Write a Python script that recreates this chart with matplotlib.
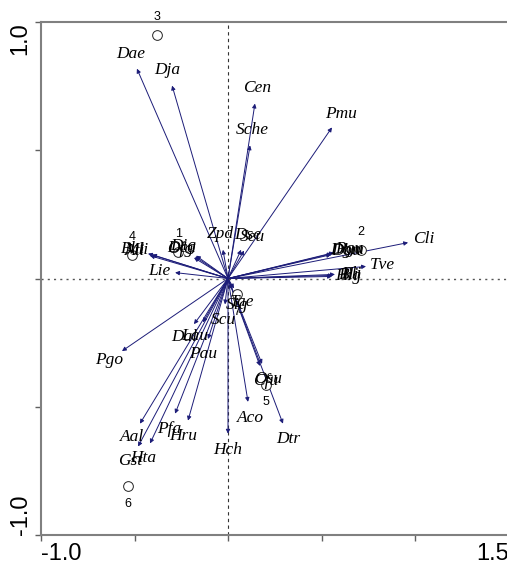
import numpy as np
import matplotlib
matplotlib.use('Agg')
import matplotlib.pyplot as plt

# especes (fleches)
species = ['Dae', 'Dja', 'Cen', 'Sche', 'Pmu', 'Cli', 'Tve',
           'Dgm', 'Pgu', 'Dbu', 'Bli', 'Pli', 'Hig',
           'Ati', 'Mli', 'Bhi', 'Lie', 'Dca', 'Dig', 'Ofg',
           'Zpd', 'Dse', 'Seu', 'Sig', 'Tae', 'Scu',
           'Dal', 'Lau', 'Pau', 'Pgo', 'Aal', 'Gst', 'Hta',
           'Pfa', 'Hru', 'Hch', 'Aco', 'Dtr', 'Cfu', 'Osu']
sp_x = [-0.487, -0.299, 0.144, 0.118, 0.556, 0.963, 0.738,
        0.556, 0.567, 0.551, 0.561, 0.572, 0.556,
        -0.417, -0.406, -0.428, -0.283, -0.176, -0.171, -0.182,
        -0.027, 0.070, 0.086, 0.021, 0.032, -0.016,
        -0.182, -0.134, -0.107, -0.567, -0.471, -0.481, -0.417,
        -0.283, -0.214, 0.000, 0.107, 0.294, 0.171, 0.182]
sp_y = [0.818, 0.752, 0.682, 0.519, 0.589, 0.140, 0.047,
        0.097, 0.101, 0.093, 0.012, 0.016, 0.008,
        0.089, 0.093, 0.097, 0.023, 0.085, 0.089, 0.081,
        0.112, 0.112, 0.109, -0.043, -0.039, -0.101,
        -0.178, -0.171, -0.236, -0.283, -0.566, -0.655, -0.643,
        -0.527, -0.554, -0.605, -0.481, -0.566, -0.341, -0.333]

# releves (cercles)
sites = ['1', '2', '3', '4', '5', '6', '7']
site_x = [-0.267, 0.711, -0.380, -0.513, 0.203, -0.535, 0.048]
site_y = [0.105, 0.112, 0.950, 0.093, -0.415, -0.810, -0.062]

fig = plt.figure(figsize=(5.07, 5.72), dpi=100)
ax = fig.add_axes([41 / 507, 1 - 535 / 572, 467.5 / 507, 513 / 572])
ax.set_xlim(-1.0, 1.5)
ax.set_ylim(-1.0, 1.0)

arrow_col = '#1c1c78'
ax.axvline(0, color='#333333', lw=0.8, ls=(0, (3, 3)), zorder=1)
ax.axhline(0, color='#555555', lw=1.0, ls=(0, (1.5, 3)), zorder=1)

# fleches + etiquettes dans la direction de la fleche
sx = 187.0
sy = 256.5
for name, x, y in zip(species, sp_x, sp_y):
    ax.annotate('', xy=(x, y), xytext=(0, 0),
                arrowprops=dict(arrowstyle='-|>', color=arrow_col, lw=0.7,
                                mutation_scale=6, shrinkA=0, shrinkB=0),
                zorder=2)
    dx, dy = x * sx, y * sy
    n = np.hypot(dx, dy)
    off = 16.0 * 72 / 100
    ax.annotate(name, xy=(x, y), xytext=(off * dx / n, off * dy / n),
                textcoords='offset points', ha='center', va='center',
                fontsize=12.5, style='italic', family='Liberation Serif',
                color='black', zorder=4)

ax.plot(site_x, site_y, 'o', mfc='white', mec='#222222', mew=0.7, ms=7,
        zorder=3)
for name, x, y in zip(sites, site_x, site_y):
    dy = 12.5 if y > 0 else -12.5
    ax.annotate(name, xy=(x, y), xytext=(0, dy), textcoords='offset points',
                ha='center', va='center', fontsize=9,
                family='Liberation Sans', zorder=4)

for s in ['left', 'top', 'bottom']:
    ax.spines[s].set_color('#808080')
    ax.spines[s].set_linewidth(1.5)
ax.spines['right'].set_visible(False)

ax.set_xticks([-1.0, -0.5, 0, 0.5, 1.0, 1.5])
ax.set_yticks([-1.0, -0.5, 0, 0.5, 1.0])
ax.set_xticklabels([])
ax.set_yticklabels([])
ax.tick_params(direction='out', length=4, width=1, color='#606060')

# etiquettes des extremites seulement (style CANOCO)
tfont = dict(fontsize=17, family='Liberation Sans')
ax.text(0, -0.015, '-1.0', transform=ax.transAxes, ha='left', va='top', **tfont)
ax.text(1.0, -0.015, '1.5', transform=ax.transAxes, ha='right', va='top', **tfont)
ax.text(-0.02, 1.0, '1.0', transform=ax.transAxes, rotation=90,
        ha='right', va='top', **tfont)
ax.text(-0.02, 0.0, '-1.0', transform=ax.transAxes, rotation=90,
        ha='right', va='bottom', **tfont)

fig.savefig('out.png', dpi=100)
